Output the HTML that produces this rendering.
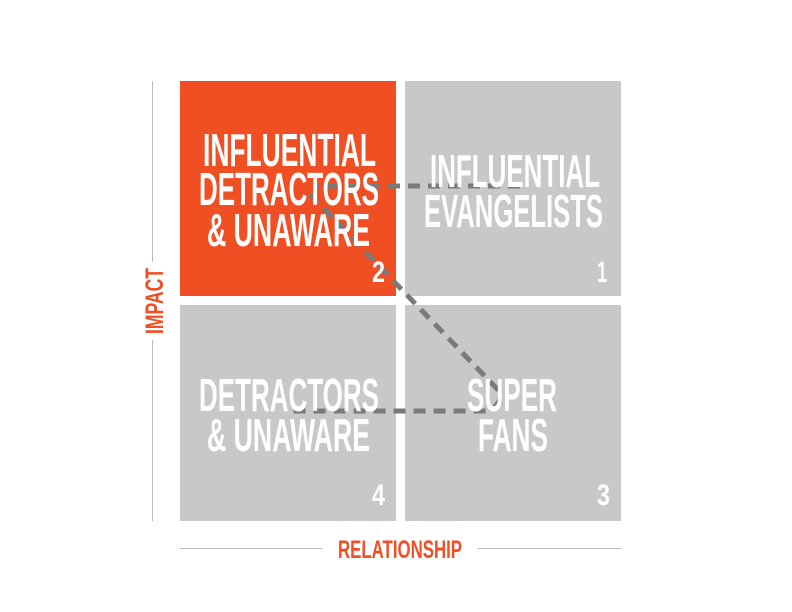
<!DOCTYPE html>
<html><head><style>
html,body{margin:0;padding:0;background:#fff;}
svg{display:block;}
text{font-family:"Liberation Sans Narrow","Liberation Sans",sans-serif;font-weight:bold;fill:#fff;}
</style></head><body>
<svg width="792" height="612" viewBox="0 0 792 612" xmlns="http://www.w3.org/2000/svg">
<rect x="180" y="81" width="216" height="215" fill="#f04e23"/>
<rect x="405" y="81" width="216" height="215" fill="#c8c8c8"/>
<rect x="180" y="305" width="216" height="216" fill="#c8c8c8"/>
<rect x="405" y="305" width="216" height="216" fill="#c8c8c8"/>
<path d="M520 186 L318 186 M310 194 L500 392 M500 400 L492 411 L288 411" fill="none" stroke="#7a7a7a" stroke-width="5" stroke-dasharray="12 8"/>
<g font-size="46">
<text x="203" y="166" textLength="173" lengthAdjust="spacingAndGlyphs">INFLUENTIAL</text>
<text x="199" y="205" textLength="180" lengthAdjust="spacingAndGlyphs">DETRACTORS</text>
<text x="207" y="246" textLength="163" lengthAdjust="spacingAndGlyphs">&amp; UNAWARE</text>
<text x="430" y="187" textLength="170" lengthAdjust="spacingAndGlyphs">INFLUENTIAL</text>
<text x="424" y="227" textLength="179" lengthAdjust="spacingAndGlyphs">EVANGELISTS</text>
<text x="199" y="411" textLength="180" lengthAdjust="spacingAndGlyphs">DETRACTORS</text>
<text x="207" y="451" textLength="163" lengthAdjust="spacingAndGlyphs">&amp; UNAWARE</text>
<text x="467" y="411" textLength="90" lengthAdjust="spacingAndGlyphs">SUPER</text>
<text x="478" y="451" textLength="70" lengthAdjust="spacingAndGlyphs">FANS</text>
</g>
<g font-size="30">
<text x="372" y="282" textLength="13" lengthAdjust="spacingAndGlyphs">2</text>
<text x="597" y="282" textLength="10" lengthAdjust="spacingAndGlyphs">1</text>
<text x="372" y="505" textLength="13" lengthAdjust="spacingAndGlyphs">4</text>
<text x="597" y="505" textLength="13" lengthAdjust="spacingAndGlyphs">3</text>
</g>
<line x1="152.5" y1="81" x2="152.5" y2="262" stroke="#bbb" stroke-width="1"/>
<line x1="152.5" y1="340" x2="152.5" y2="521" stroke="#bbb" stroke-width="1"/>
<text transform="translate(163,334) rotate(-90)" font-size="25" style="fill:#f04e23" textLength="66" lengthAdjust="spacingAndGlyphs">IMPACT</text>
<line x1="180" y1="548.5" x2="322" y2="548.5" stroke="#bbb" stroke-width="1"/>
<line x1="478" y1="548.5" x2="621" y2="548.5" stroke="#bbb" stroke-width="1"/>
<text x="338" y="558" font-size="25" style="fill:#f04e23" textLength="124" lengthAdjust="spacingAndGlyphs">RELATIONSHIP</text>
</svg>
</body></html>
